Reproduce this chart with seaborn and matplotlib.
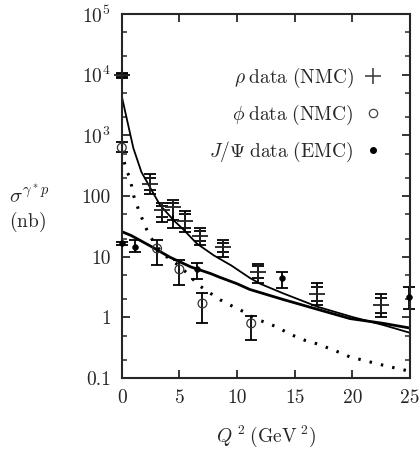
import numpy as np
import pandas as pd
import matplotlib
matplotlib.use('Agg')
import matplotlib.pyplot as plt
import seaborn as sns
from matplotlib.lines import Line2D
from matplotlib.ticker import LogLocator, NullFormatter, FixedLocator

# rho data (NMC)
rho_q2 = [0.0, 2.45, 3.5, 4.45, 5.5, 6.75, 8.75, 11.86, 16.9, 22.46]
rho_val = [9800, 160, 60, 66, 39, 22, 14.6, 5.6, 2.4, 1.6]
rho_lo = [8700, 110, 38, 30, 26, 15.5, 10, 3.7, 1.6, 1.0]
rho_hi = [10800, 228, 77, 86, 57, 30, 19, 7.6, 3.7, 2.4]
rho_lo_in = [9300, 125, 45, 40, 30, 18, 12, 4.5, 1.9, 1.2]
rho_hi_in = [10300, 200, 70, 78, 50, 27, 17, 7.0, 3.2, 2.1]

# phi data (NMC)
phi_q2 = [0.0, 3.06, 5.0, 7.0, 11.23]
phi_val = [630, 13.7, 6.2, 1.7, 0.80]
phi_lo = [537, 7.3, 3.4, 0.82, 0.42]
phi_hi = [785, 18.8, 8.8, 2.5, 1.05]

# J/Psi data (EMC)
psi_q2 = [0.0, 1.13, 6.53, 13.9, 24.95]
psi_val = [16.6, 14.6, 6.4, 4.4, 2.2]
psi_lo = [15.5, 12.1, 4.3, 3.1, 1.37]
psi_hi = [17.8, 18.8, 7.85, 5.65, 3.15]

# curvas do modelo
rho_curve_q2 = [0, 1.0, 1.7, 2.4, 3.3, 4.5, 5.4, 6.5, 8.0, 9.5, 11.1, 12.0, 14.0, 17.0, 20.0, 22.7, 25.0]
rho_curve_val = [4400, 620, 250, 145, 72, 40, 27.5, 16.6, 10.5, 7.2, 4.5, 3.6, 2.5, 1.5, 1.02, 0.75, 0.56]

psi_curve_q2 = [0, 0.8, 2.5, 4.2, 6.0, 7.7, 8.5, 10.0, 11.1, 14.0, 17.0, 19.8, 22.7, 25.0]
psi_curve_val = [26, 22.5, 15, 9.8, 6.8, 5.3, 4.6, 3.6, 2.9, 1.98, 1.36, 0.96, 0.80, 0.67]

phi_curve_q2 = [0, 0.17, 0.4, 0.7, 1.04, 1.45, 2.05, 2.5, 3.06, 3.9, 4.9, 6.0, 6.5, 7.5, 8.55,
                9.7, 10.6, 11.6, 12.3, 13.45, 14.6, 15.9, 16.9, 18.4, 19.8, 21.5, 23.0, 25.0]
phi_curve_val = [560, 390, 268, 200, 100, 60, 31, 21, 14.6, 10, 7.3, 4.7, 3.6, 2.65, 1.95,
                 1.5, 1.24, 0.96, 0.85, 0.70, 0.53, 0.42, 0.37, 0.29, 0.224, 0.186, 0.158, 0.13]

yticks = [0.1, 1, 10, 100, 1e3, 1e4, 1e5]
ytick_labels = ['0.1', '1', '10', '100', r'$10^3$', r'$10^4$', r'$10^5$']
xticks = [0, 5, 10, 15, 20, 25]

sns.set_style('ticks')
plt.rcParams['font.family'] = ['cmr10', 'DejaVu Serif']
plt.rcParams['mathtext.fontset'] = 'cm'
plt.rcParams['axes.unicode_minus'] = False
plt.rcParams['axes.formatter.use_mathtext'] = True

fig = plt.figure(figsize=(4.2, 4.54), dpi=100)
ax = fig.add_axes([0.290, 0.167, 0.686, 0.802])

df_rho_c = pd.DataFrame({'q2': rho_curve_q2, 'val': rho_curve_val})
df_psi_c = pd.DataFrame({'q2': psi_curve_q2, 'val': psi_curve_val})
df_phi_c = pd.DataFrame({'q2': phi_curve_q2, 'val': phi_curve_val})

sns.lineplot(data=df_rho_c, x='q2', y='val', ax=ax, color='black', linewidth=1.3, sort=False, estimator=None)
sns.lineplot(data=df_psi_c, x='q2', y='val', ax=ax, color='black', linewidth=2.0, sort=False, estimator=None)
sns.lineplot(data=df_phi_c, x='q2', y='val', ax=ax, color='black', linewidth=2.2,
             linestyle=(0, (0.8, 3.0)), sort=False, estimator=None)

def barras(q2, val, lo, hi, cap):
    v = np.array(val)
    err = [v - np.array(lo), np.array(hi) - v]
    ax.errorbar(q2, val, yerr=err, fmt='none', ecolor='black', elinewidth=1.3,
                capsize=cap, capthick=1.3, clip_on=False)

barras(rho_q2, rho_val, rho_lo, rho_hi, 4)
barras(rho_q2, rho_val, rho_lo_in, rho_hi_in, 4)
barras(phi_q2, phi_val, phi_lo, phi_hi, 4)
barras(psi_q2, psi_val, psi_lo, psi_hi, 4)

df_rho = pd.DataFrame({'q2': rho_q2, 'val': rho_val})
df_phi = pd.DataFrame({'q2': phi_q2, 'val': phi_val})
df_psi = pd.DataFrame({'q2': psi_q2, 'val': psi_val})

sns.scatterplot(data=df_rho, x='q2', y='val', ax=ax, marker='+', s=130, color='#222222',
                linewidth=1.3, clip_on=False, zorder=5)
sns.scatterplot(data=df_phi, x='q2', y='val', ax=ax, marker='o', s=40, facecolor='none',
                edgecolor='#333333', linewidth=0.9, clip_on=False, zorder=5)
sns.scatterplot(data=df_psi, x='q2', y='val', ax=ax, marker='o', s=18, color='black',
                edgecolor='black', clip_on=False, zorder=5)

ax.set_yscale('log')
ax.set_xlim(0, 25)
ax.set_ylim(0.1, 1e5)
ax.yaxis.set_major_locator(FixedLocator(yticks))
ax.set_yticklabels(ytick_labels)
ax.yaxis.set_minor_locator(LogLocator(base=10, subs=(2, 5), numticks=20))
ax.yaxis.set_minor_formatter(NullFormatter())
ax.set_xticks(xticks)
ax.set_xticklabels([str(t) for t in xticks])

ax.tick_params(axis='both', which='major', direction='in', length=6, width=1.3,
               top=True, right=True, labelsize=14, pad=8)
ax.tick_params(axis='y', which='minor', direction='in', length=3.5, width=1.1,
               left=True, right=True)
for s in ax.spines.values():
    s.set_linewidth(1.5)

ax.set_xlabel(r'$Q^{\;2}\;(\mathrm{GeV}^{\;2})$', fontsize=14, labelpad=12)
ax.set_ylabel('')
fig.text(0.022, 0.545, r'$\sigma^{\gamma^*p}$', fontsize=15, ha='left', va='bottom')
fig.text(0.022, 0.538, r'$(\mathrm{nb})$', fontsize=14, ha='left', va='top')

handles = [
    Line2D([], [], linestyle='none', marker='+', markersize=12, markeredgewidth=1.2, color='#444444'),
    Line2D([], [], linestyle='none', marker='o', markersize=6, markerfacecolor='none',
           markeredgecolor='#444444', markeredgewidth=0.9),
    Line2D([], [], linestyle='none', marker='o', markersize=4, color='black'),
]
labels = [r'$\rho\;\mathrm{data\ (NMC)}$', r'$\phi\;\mathrm{data\ (NMC)}$', r'$J/\Psi\;\mathrm{data\ (EMC)}$']
ax.legend(handles, labels, loc='upper right', bbox_to_anchor=(0.96, 0.905), frameon=False,
          markerfirst=False, handlelength=0.8, handletextpad=0.6, labelspacing=0.65, fontsize=14)

fig.savefig('out.png', dpi=100)
